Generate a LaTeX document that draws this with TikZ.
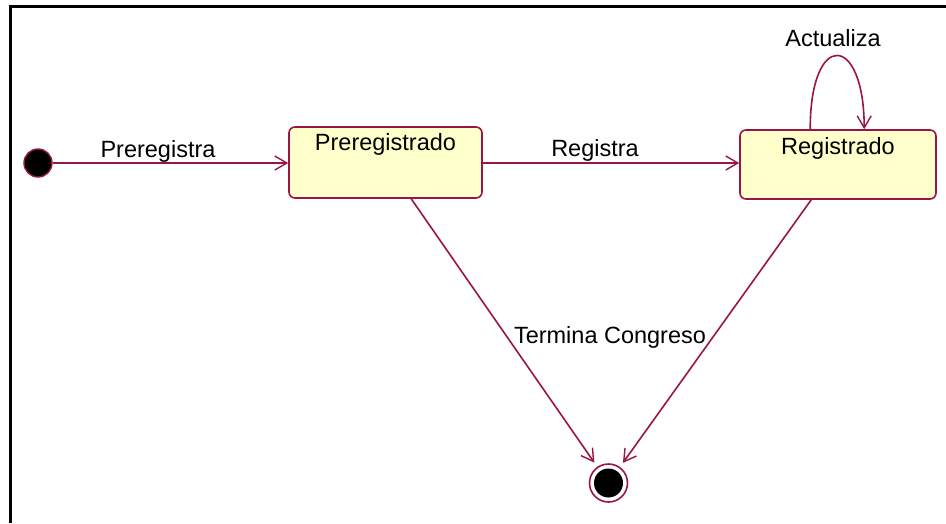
\documentclass[tikz,border=0pt]{standalone}
\usepackage{fontspec}
\setmainfont{Liberation Sans}
\usetikzlibrary{arrows.meta,calc}
\definecolor{umlline}{RGB}{155,20,70}
\definecolor{statefill}{RGB}{255,255,204}
\begin{document}
\begin{tikzpicture}[x=1pt,y=-1pt,
  every node/.style={font=\fontsize{23.5}{28}\selectfont},
  statebox/.style={draw=umlline,fill=statefill,line width=1.6pt,rounded corners=6pt,inner sep=0pt},
  trans/.style={draw=umlline,line width=1.6pt,-{Straight Barb[length=12pt,width=14pt,line width=1.4pt]}},
  lbl/.style={anchor=base,text=black}]
  % canvas and frame
  \useasboundingbox (0,0) rectangle (946,523);
  \fill[white] (0,0) rectangle (946,523);
  \draw[line width=3pt] (10.5,523) -- (10.5,6.5) -- (946,6.5);

  % states
  \node[circle,draw=umlline,fill=black,line width=1.4pt,minimum size=28pt,inner sep=0pt] (init) at (38,163) {};
  \node[statebox,minimum width=193pt,minimum height=71pt,
        label={[lbl,yshift=-24pt]north:Preregistrado}] (pre) at (385.5,162.5) {};
  \node[statebox,minimum width=196pt,minimum height=69pt,
        label={[lbl,yshift=-25pt]north:Registrado}] (reg) at (838,164.5) {};
  \node[circle,draw=umlline,line width=1.6pt,minimum size=38pt,inner sep=0pt,
        path picture={\fill[black] (path picture bounding box.center) circle (14.5pt);}] (fin) at (608.5,483) {};

  % transitions
  \draw[trans] (init) -- (init -| pre.west);
  \draw[trans] (pre.east |- init) -- (reg.west |- init);
  \draw[trans,shorten >=5pt] ([xshift=123pt]pre.south west) -- (fin);
  \draw[trans,shorten >=5pt] ([xshift=72pt]reg.south west) -- (fin);
  \draw[trans] ([xshift=71pt]reg.north west) .. controls +(0,-100) and +(0,-96) .. ([xshift=125pt]reg.north west);

  % transition labels
  \node[lbl] (lpre) at (158,157) {Preregistra};
  \node[lbl] (lreg) at (595,156) {Registra};
  \node[lbl] (lact) at (833,46) {Actualiza};
  \node[lbl] (lfin) at (610,343) {Termina Congreso};
\end{tikzpicture}
\end{document}
